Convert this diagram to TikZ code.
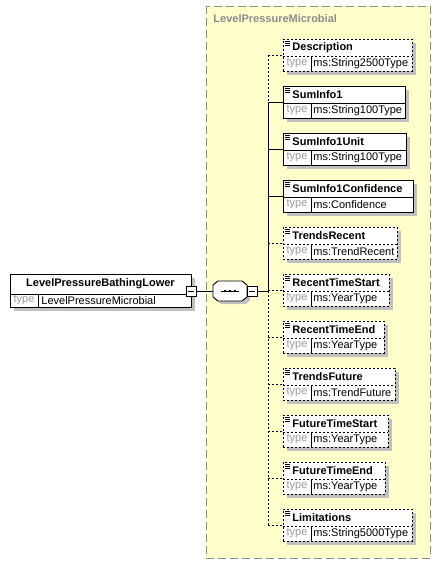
\documentclass[tikz,border=0pt]{standalone}
\usepackage{fontspec}
\setmainfont{Liberation Sans}
\definecolor{panelfill}{HTML}{FFFFCC}
\definecolor{panelline}{HTML}{8C8C8C}
\definecolor{shadegrey}{HTML}{C0C0C0}
\definecolor{typegrey}{HTML}{9A9A9A}
\begin{document}
\begin{tikzpicture}[x=1pt,y=-1pt,line width=0.9pt,
  elem/.style={draw,fill=white,inner sep=0pt,minimum height=32pt,anchor=west},
  opt/.style={dash pattern=on 2pt off 2pt},
  req/.style={solid},
  minus/.style={draw,solid,fill=white,inner sep=0pt,minimum size=10pt},
  namefont/.style={inner sep=0pt,font=\fontsize{11}{13}\selectfont\bfseries},
  typefont/.style={inner sep=0pt,font=\fontsize{11}{13}\selectfont}]
  \useasboundingbox (0,0) rectangle (441,564);
  % group panel
  \draw[fill=panelfill,draw=panelline,dash pattern=on 8pt off 4pt] (206,6) rectangle (430,558);
  \node[namefont,text=panelline,anchor=west] (grouptitle) at (213,19) {LevelPressureMicrobial};
  % root element
  \fill[shadegrey] (14,278) rectangle (195,311);
  \node[elem,minimum width=181pt,minimum height=33pt,anchor=north west] (root) at (10,274) {};
  \draw (10,294) -- (191,294);
  \draw[line width=0.6pt] (38,294) -- (38,307);
  \node[namefont] (rootname) at (100.5,284) {LevelPressureBathingLower};
  \node[typefont,text=typegrey] (roottype) at (24,300.5) {type};
  \node[typefont,anchor=west] (rootvalue) at (41,300.5) {LevelPressureMicrobial};
  \node[minus] (rootminus) at (191,291) {};
  \draw ([xshift=2]rootminus.west) -- ([xshift=-2]rootminus.east);
  % sequence
  \fill[shadegrey] (221,284) -- (246,284) -- (250,288) -- (250,300) -- (246,304)
    -- (221,304) -- (216,300) -- (216,288) -- cycle;
  \node[inner sep=0pt,minimum width=34pt,minimum height=20pt] (seq) at (230,291) {};
  \draw[fill=white] (218,281) -- (242,281) -- (247,285) -- (247,297) -- (242,301)
    -- (218,301) -- (213,297) -- (213,285) -- cycle;
  \draw[line width=0.8pt] (221,291) -- (239,291);
  \foreach \x in {225,230,235} \fill (\x-1.3,289.7) rectangle (\x+1.3,292.3);
  \node[minus] (seqminus) at (252,291) {};
  \draw ([xshift=2]seqminus.west) -- ([xshift=-2]seqminus.east);
  \draw (rootminus) -- (seq);
  \coordinate (bus) at (268,291);
  \draw (seqminus) -- (bus);
  % child elements
  \foreach \y/\w/\nm/\ty/\ln [count=\i] in {
      55/129/Description/ms:String2500Type/opt,
      102/122/SumInfo1/ms:String100Type/req,
      149/123/SumInfo1Unit/ms:String100Type/req,
      196/130/SumInfo1Confidence/ms:Confidence/req,
      243/114/TrendsRecent/ms:TrendRecent/opt,
      290/106/RecentTimeStart/ms:YearType/opt,
      337/101/RecentTimeEnd/ms:YearType/opt,
      384/112/TrendsFuture/ms:TrendFuture/opt,
      431/105/FutureTimeStart/ms:YearType/opt,
      478/102/FutureTimeEnd/ms:YearType/opt,
      525/129/Limitations/ms:String5000Type/opt} {
    \fill[shadegrey] (287,\y-12) rectangle (\w+287,\y+20);
    \node[elem,\ln,minimum width=\w] (c\i) at (283,\y) {};
    \draw[\ln] (283,\y+1) -- (\w+283,\y+1);
    \draw[line width=0.6pt] (311,\y+1) -- (311,\y+16);
    \foreach \k in {0,2,4} \draw[line width=0.5pt] (285,\y-14+\k) -- (290,\y-14+\k);
    \node[namefont,anchor=west] (n\i) at (292,\y-7.5) {\nm};
    \node[typefont,text=typegrey] (t\i) at (297,\y+8.5) {type};
    \node[typefont,anchor=west] (v\i) at (313,\y+8.5) {\ty};
    \draw[\ln] (c\i.west -| bus) -- (c\i.west);
  }
  \draw[opt] (c1.west -| bus) -- (c2.west -| bus);
  \draw (c2.west -| bus) -- (bus);
  \draw[opt] (bus) -- (c11.west -| bus);
\end{tikzpicture}
\end{document}
